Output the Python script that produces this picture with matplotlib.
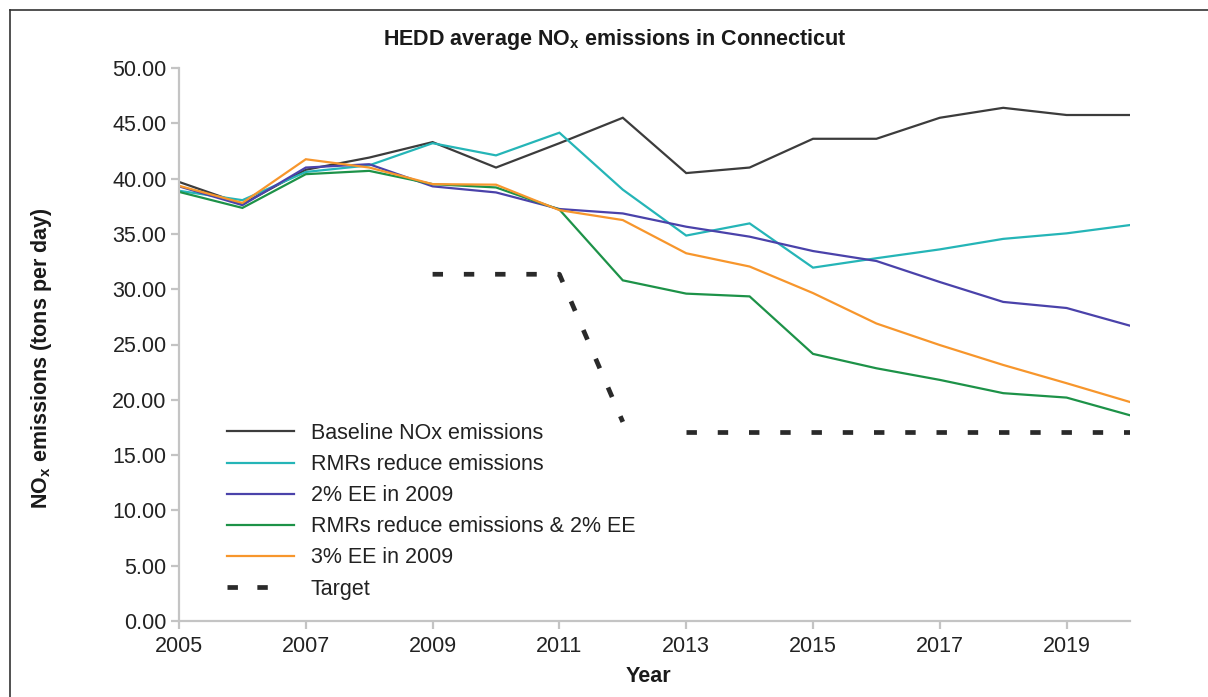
import matplotlib
matplotlib.use("Agg")
import matplotlib.pyplot as plt
from matplotlib.lines import Line2D

plt.rcParams['font.family'] = ['Liberation Sans', 'DejaVu Sans']
plt.rcParams['mathtext.fontset'] = 'custom'
plt.rcParams['mathtext.rm'] = 'Liberation Sans'
plt.rcParams['mathtext.bf'] = 'Liberation Sans:bold'
plt.rcParams['lines.scale_dashes'] = False

years = list(range(2005, 2021))

baseline = [39.7, 37.7, 40.8, 41.9, 43.3, 41.0, 43.2, 45.5,
            40.5, 41.0, 43.6, 43.6, 45.5, 46.4, 45.75, 45.75]
rmr = [38.9, 38.05, 40.6, 41.2, 43.2, 42.1, 44.15, 39.0,
       34.85, 35.95, 31.95, 32.8, 33.6, 34.55, 35.05, 35.8]
ee2 = [39.3, 37.6, 41.0, 41.3, 39.3, 38.75, 37.25, 36.85,
       35.65, 34.75, 33.45, 32.55, 30.65, 28.85, 28.3, 26.7]
rmr_ee2 = [38.8, 37.35, 40.4, 40.7, 39.5, 39.2, 37.2, 30.8,
           29.6, 29.35, 24.15, 22.85, 21.8, 20.6, 20.2, 18.6]
ee3 = [39.35, 37.8, 41.75, 41.0, 39.5, 39.45, 37.15, 36.25,
       33.25, 32.05, 29.65, 26.9, 24.95, 23.15, 21.5, 19.8]

# target path: phase-in period (2009-2012) and long-run level (2013-2020)
target_years = list(range(2009, 2021))
target = [31.35, 31.35, 31.35, 18.0, 17.1, 17.1, 17.1, 17.1,
          17.1, 17.1, 17.1, 17.1]
target_break = 4

series_labels = ["Baseline NOx emissions", "RMRs reduce emissions",
                 "2% EE in 2009", "RMRs reduce emissions & 2% EE",
                 "3% EE in 2009", "Target"]
series_colors = ["#3c3c3c", "#25b5b7", "#4a42aa", "#1d9248", "#f7962c", "#2a2a2a"]

y_ticks = [0, 5, 10, 15, 20, 25, 30, 35, 40, 45, 50]
x_ticks = [2005, 2007, 2009, 2011, 2013, 2015, 2017, 2019]

W, H = 1208, 697
fig = plt.figure(figsize=(W / 100, H / 100), dpi=100)
ax = fig.add_axes([179 / W, 1 - 621 / H, (1130 - 179) / W, (621 - 68) / H])

lw = 1.6
for vals, col in zip([baseline, rmr, ee2, rmr_ee2, ee3], series_colors[:5]):
    ax.plot(years, vals, color=col, lw=lw, solid_joinstyle='miter')
dash = (0, (7.5, 15.0))
ax.plot(target_years[:target_break], target[:target_break],
        color=series_colors[5], lw=3.4, linestyle=dash)
ax.plot(target_years[target_break:], target[target_break:],
        color=series_colors[5], lw=3.4, linestyle=dash)

ax.set_xlim(2005, 2020)
ax.set_ylim(0, 50)
ax.set_xticks(x_ticks)
ax.set_xticklabels([str(x) for x in x_ticks])
ax.set_yticks(y_ticks)
ax.set_yticklabels([f"{v:.2f}" for v in y_ticks])

spine_col = "#c4c4c4"
for s in ['top', 'right']:
    ax.spines[s].set_visible(False)
for s in ['left', 'bottom']:
    ax.spines[s].set_color(spine_col)
    ax.spines[s].set_linewidth(1.6)
ax.tick_params(axis='both', colors=spine_col, labelcolor="#222222",
               labelsize=15.5, length=6, width=1.6, direction='out', pad=3)
ax.tick_params(axis='x', pad=5)

bold_size = 15.5
fig.text(615 / W, 1 - 40 / H, r"HEDD average NO$_\mathbf{x}$ emissions in Connecticut",
         ha='center', va='center', fontsize=bold_size, fontweight='bold', color="#1a1a1a")
fig.text(42 / W, 1 - 358 / H, r"NO$_\mathbf{x}$ emissions (tons per day)",
         ha='center', va='center', rotation=90, fontsize=bold_size, fontweight='bold',
         color="#1a1a1a")
fig.text(648 / W, 1 - 676 / H, "Year", ha='center', va='center', fontsize=bold_size,
         fontweight='bold', color="#1a1a1a")

handles = [Line2D([], [], color=c, lw=lw) for c in series_colors[:5]]
handles.append(Line2D([], [], color=series_colors[5], lw=3.4, linestyle=(0, (7.5, 14.0, 7.5, 40.0))))
leg = ax.legend(handles, series_labels, loc='upper left',
                bbox_to_anchor=(227 / W, 1 - 423 / H), bbox_transform=fig.transFigure,
                frameon=False, fontsize=15.5, handlelength=3.1, handletextpad=0.78,
                labelspacing=0.47, borderpad=0, borderaxespad=0)
for t in leg.get_texts():
    t.set_color("#222222")

# frame drawn around the figure (left and top edges)
fig.add_artist(Line2D([10 / W, 10 / W], [0, 1 - 10 / H], transform=fig.transFigure,
                      color="#333333", lw=1.2))
fig.add_artist(Line2D([10 / W, 1], [1 - 10 / H, 1 - 10 / H], transform=fig.transFigure,
                      color="#333333", lw=1.2))

fig.savefig("out.png", dpi=100)
